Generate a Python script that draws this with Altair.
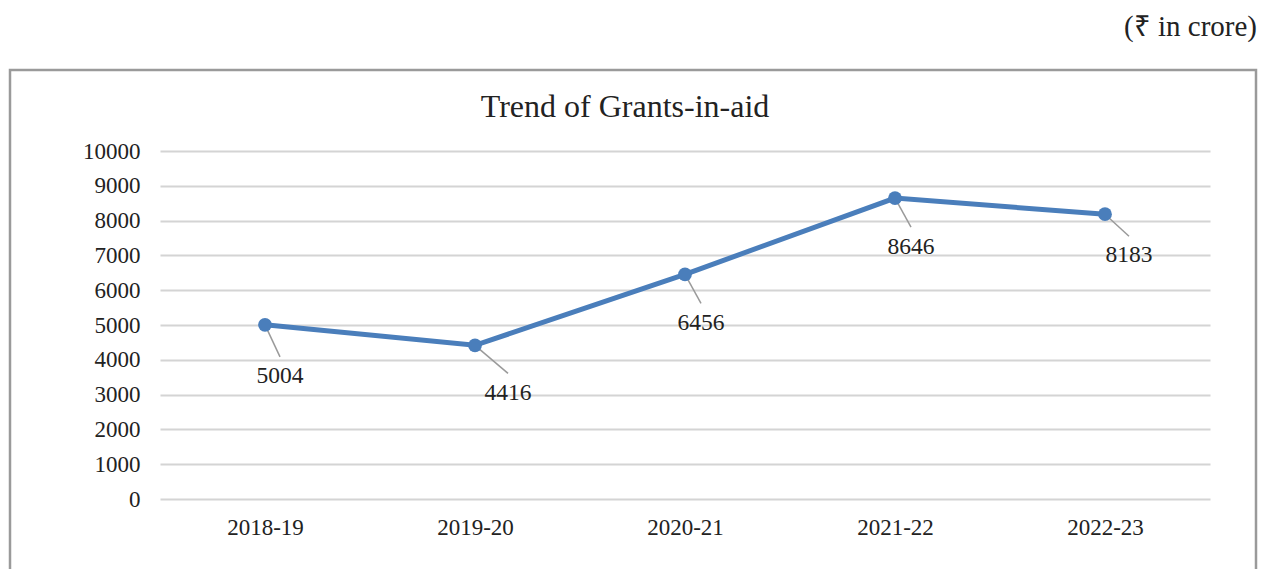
import altair as alt
import pandas as pd

# ---- data ----
years = ["2018-19", "2019-20", "2020-21", "2021-22", "2022-23"]
grants = [5004, 4416, 6456, 8646, 8183]
y_ticks = [0, 1000, 2000, 3000, 4000, 5000, 6000, 7000, 8000, 9000, 10000]

# label callout offsets (pixels): (dx, leader end dy, label dy)
label_offsets = [(15, 32, 51), (33, 28, 48), (16, 29, 49), (16, 29, 49), (24, 22, 41)]

df = pd.DataFrame({"year": years, "value": grants})

FONT = "Liberation Serif"
BLUE = "#4a7ebb"
TXT = "#222222"

x_enc = alt.X("year:N", sort=years, title=None,
              scale=alt.Scale(type="point", padding=0.5),
              axis=alt.Axis(labelAngle=0, ticks=False, domain=False, grid=False,
                            labelFont=FONT, labelFontSize=23, labelColor=TXT,
                            labelPadding=28, labelBaseline="middle"))
y_enc = alt.Y("value:Q", title=None,
              scale=alt.Scale(domain=[0, 10000], nice=False),
              axis=alt.Axis(values=y_ticks, ticks=False, domain=False, format="d",
                            labelOverlap=False, labelFont=FONT, labelFontSize=23,
                            labelColor=TXT, labelPadding=20,
                            gridColor="#d4d4d4", gridWidth=2))

base = alt.Chart(df)

line = base.mark_line(color=BLUE, strokeWidth=5).encode(x=x_enc, y=y_enc)
pts = base.mark_point(filled=True, color=BLUE, size=190, opacity=1).encode(x=x_enc, y=y_enc)

layers = []
for i, (yr, (dx, ldy, tdy)) in enumerate(zip(years, label_offsets)):
    sub = alt.Chart(df).transform_filter(alt.datum.year == yr)
    leader = sub.mark_rule(color="#9a9a9a", strokeWidth=1.5,
                           x2Offset=dx, y2Offset=ldy).encode(
        x=x_enc, y=y_enc, x2="year:N", y2="value:Q")
    txt = sub.mark_text(dx=dx, dy=tdy, font=FONT, fontSize=23.5, color=TXT,
                        baseline="middle", align="center").encode(
        x=x_enc, y=y_enc, text="value:Q")
    layers += [leader, txt]

frame = alt.Chart(alt.Data(values=[{}])).mark_rect(
    fill="white", fillOpacity=0, stroke="#9a9a9a", strokeWidth=2.5).encode(
    x=alt.value(-150), x2=alt.value(1096), y=alt.value(-81), y2=alt.value(520))

unit_note = alt.Chart(alt.Data(values=[{"t": "(₹ in crore)"}])).mark_text(
    font=FONT, fontSize=29, color=TXT, align="right", baseline="middle").encode(
    x=alt.value(1097), y=alt.value(-124), text="t:N")

title_txt = alt.Chart(alt.Data(values=[{"t": "Trend of Grants-in-aid"}])).mark_text(
    font=FONT, fontSize=32, color=TXT, align="center", baseline="middle").encode(
    x=alt.value(465), y=alt.value(-44), text="t:N")

chart = alt.layer(frame, line, *layers, pts, unit_note, title_txt).properties(
    width=1050, height=348,
    autosize=alt.AutoSizeParams(type="none"),
    padding={"left": 152, "top": 143, "right": 50, "bottom": 70},
).configure(
    background="white", font=FONT
).configure_view(strokeWidth=0, stroke="transparent")

chart.save("out.html", embed_options={"renderer": "svg", "actions": False})
